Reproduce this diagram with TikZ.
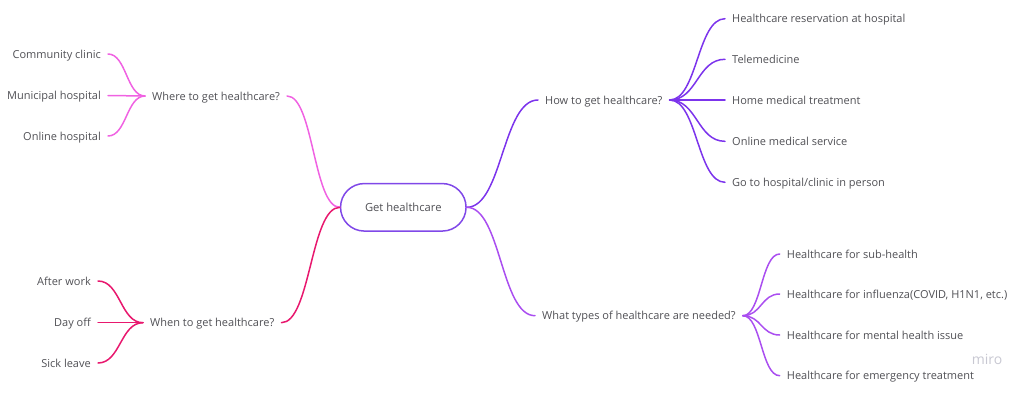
\documentclass[tikz,border=0pt]{standalone}
\usepackage{fontspec}
\setmainfont{Open Sans}
\usetikzlibrary{calc}
\definecolor{txtc}{RGB}{80,80,85}
\definecolor{rootc}{RGB}{128,72,232}
\definecolor{howc}{RGB}{124,52,236}
\definecolor{whatc}{RGB}{170,78,240}
\definecolor{wherec}{RGB}{240,98,226}
\definecolor{whenc}{RGB}{232,24,110}
\definecolor{miroc}{RGB}{200,200,210}
\begin{document}
\begin{tikzpicture}[x=1pt,y=-1pt,
  lbl/.style={inner xsep=7pt, inner ysep=0pt, text height=9.5pt, text depth=1pt,
    font=\fontsize{11}{13}\selectfont, text=txtc},
  lnk/.style={line width=1.5pt, line cap=round},
  bez/.style={to path={let \p1=(\tikztostart), \p2=(\tikztotarget) in
    .. controls ({(\x1+\x2)/2},\y1) and ({(\x1+\x2)/2},\y2) .. (\tikztotarget) \tikztonodes}}]
\useasboundingbox (0,0) rectangle (1013,400);

% root
\node[draw=rootc, line width=1.5pt, rounded corners=23.7pt, minimum width=125.5pt,
  minimum height=47.5pt, font=\fontsize{11.2}{13}\selectfont, text=txtc] (root) at (403.3,207.3) {Get healthcare};

% where
\node[lbl, anchor=west] (where) at (145,96) {Where to get healthcare?};
\node[lbl, anchor=east] (cc) at (108,54) {Community clinic};
\node[lbl, anchor=east] (mh) at (108,95.5) {Municipal hospital};
\node[lbl, anchor=east] (oh) at (108,136) {Online hospital};

% when
\node[lbl, anchor=west] (when) at (143,322.7) {When to get healthcare?};
\node[lbl, anchor=east] (aw) at (98,281) {After work};
\node[lbl, anchor=east] (do) at (98,322.7) {Day off};
\node[lbl, anchor=east] (sl) at (98,363) {Sick leave};

% how
\node[lbl, anchor=west] (how) at (538,100) {How to get healthcare?};
\node[lbl, anchor=west] (h1) at (725,18.7) {Healthcare reservation at hospital};
\node[lbl, anchor=west] (h2) at (725,59.3) {Telemedicine};
\node[lbl, anchor=west] (h3) at (725,100) {Home medical treatment};
\node[lbl, anchor=west] (h4) at (725,141.3) {Online medical service};
\node[lbl, anchor=west] (h5) at (725,182.3) {Go to hospital/clinic in person};

% what
\node[lbl, anchor=west] (what) at (535,315.7) {What types of healthcare are needed?};
\node[lbl, anchor=west] (w1) at (779.7,254) {Healthcare for sub-health};
\node[lbl, anchor=west] (w2) at (779.7,294) {Healthcare for influenza(COVID, H1N1, etc.)};
\node[lbl, anchor=west] (w3) at (779.7,335) {Healthcare for mental health issue};
\node[lbl, anchor=west] (w4) at (779.7,375.7) {Healthcare for emergency treatment};

\node[text=miroc, font=\fontsize{14}{15}\selectfont, inner sep=0pt] (miro) at (987,359) {miro};

% connectors
\draw[lnk, wherec] (where.east) to[bez] (root.west);
\foreach \c in {cc,mh,oh} \draw[lnk, wherec] (\c.east) to[bez] (where.west);
\draw[lnk, whenc] (when.east) to[bez] (root.west);
\foreach \c in {aw,do,sl} \draw[lnk, whenc] (\c.east) to[bez] (when.west);
\draw[lnk, howc] (root.east) to[bez] (how.west);
\foreach \c in {h1,h2,h3,h4,h5} \draw[lnk, howc] (how.east) to[bez] (\c.west);
\draw[lnk, whatc] (root.east) to[bez] (what.west);
\foreach \c in {w1,w2,w3,w4} \draw[lnk, whatc] (what.east) to[bez] (\c.west);
\end{tikzpicture}
\end{document}
